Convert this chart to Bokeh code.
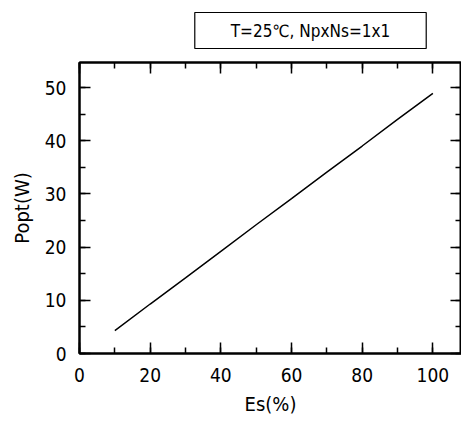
from bokeh.plotting import figure
from bokeh.models import Range1d, LinearAxis, SingleIntervalTicker, Label
from bokeh.layouts import column
from bokeh.embed import file_html
from bokeh.resources import INLINE

es = [10, 20, 30, 40, 50, 60, 70, 80, 90, 100]
popt = [4.3, 9.3, 14.2, 19.2, 24.2, 29.1, 34.1, 39.0, 44.0, 48.9]
title_text = "T=25\u2103, NpxNs=1x1"
x_label = "Es(%)"
y_label = "Popt(W)"

FONT = "DejaVu Sans Condensed"

# header strip holding the boxed caption (its frame is aligned with the plot frame)
top = figure(width=461, height=50, output_backend="svg", toolbar_location=None,
             x_range=Range1d(0, 1), y_range=Range1d(0, 1),
             x_axis_location=None, y_axis_location=None, min_border=0)
top.xgrid.visible = False
top.ygrid.visible = False
top.outline_line_color = None
top.background_fill_color = "white"
top.border_fill_color = "white"
lab = Label(x=231, y=20, x_units="screen", y_units="screen", text=title_text,
            text_font=FONT, text_font_size="17px", text_color="black",
            text_align="center", text_baseline="middle",
            border_line_color="black", border_line_width=1.2,
            background_fill_color="white",
            padding=dict(left=36, right=36, top=8, bottom=8))
top.add_layout(lab)

p = figure(width=461, height=371, output_backend="svg", toolbar_location=None,
           x_range=Range1d(0, 108.1), y_range=Range1d(0, 54.7),
           x_axis_location=None, y_axis_location=None,
           min_border_left=79, min_border_right=0, min_border_top=12, min_border_bottom=68)
p.xgrid.visible = False
p.ygrid.visible = False
p.outline_line_color = "black"
p.outline_line_width = 2
p.background_fill_color = "white"
p.border_fill_color = "white"

def style(ax, show_labels):
    ax.axis_line_width = 2
    ax.axis_line_color = "black"
    ax.major_tick_in = 11
    ax.major_tick_out = 0
    ax.minor_tick_in = 6
    ax.minor_tick_out = 0
    ax.major_tick_line_width = 1.5
    ax.minor_tick_line_width = 1.5
    ax.major_tick_line_color = "black"
    ax.minor_tick_line_color = "black"
    if show_labels:
        ax.major_label_text_font = FONT
        ax.major_label_text_font_size = "19px"
        ax.major_label_text_color = "black"
        ax.axis_label_text_font = FONT
        ax.axis_label_text_font_size = "20px"
        ax.axis_label_text_font_style = "normal"
        ax.axis_label_text_color = "black"
    else:
        ax.major_label_text_font_size = "0px"
        ax.major_label_standoff = 0
        ax.major_label_text_alpha = 0

xb = LinearAxis(ticker=SingleIntervalTicker(interval=20, num_minor_ticks=2), axis_label=x_label)
style(xb, True)
xb.major_label_standoff = 14
xb.axis_label_standoff = 7
p.add_layout(xb, "below")

yl = LinearAxis(ticker=SingleIntervalTicker(interval=10, num_minor_ticks=2), axis_label=y_label)
style(yl, True)
yl.major_label_standoff = 13
yl.axis_label_standoff = 8
p.add_layout(yl, "left")

xt = LinearAxis(ticker=SingleIntervalTicker(interval=20, num_minor_ticks=2))
style(xt, False)
p.add_layout(xt, "above")

yr = LinearAxis(ticker=SingleIntervalTicker(interval=10, num_minor_ticks=2))
style(yr, False)
p.add_layout(yr, "right")

p.line(es, popt, line_color="black", line_width=1.5)

layout = column(top, p, spacing=0)
open("out.html", "w").write(file_html(layout, INLINE))
